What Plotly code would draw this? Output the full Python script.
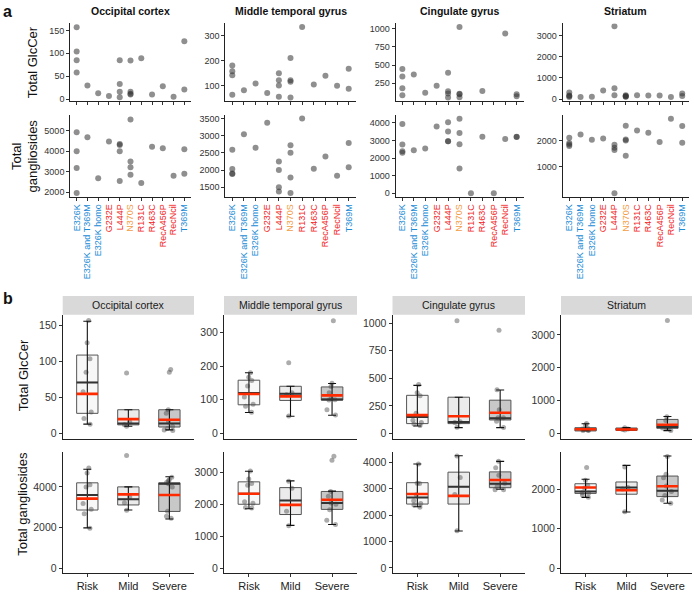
import plotly.graph_objects as go

W, H = 694, 592

# ---- data: panel a (per mutation) ----
mutations = ["E326K", "E326K and T369M", "E326K homo", "G232E", "L444P", "N370S",
             "R131C", "R463C", "RecA456P", "RecNcil", "T369M"]
mut_group = ["Risk", "Risk", "Risk", "Severe", "Severe", "Mild",
             "Severe", "Severe", "Severe", "Severe", "Risk"]
regions = ["Occipital cortex", "Middle temporal gyrus", "Cingulate gyrus", "Striatum"]

occ_glc = [[157, 104, 85, 58], [30], [13], [7], [85, 33, 16, 4], [84, 16, 12, 10],
           [89], [10], [28], [5], [126, 21]]
mtg_glc = [[180, 157, 141, 63], [81], [108], [70], [149, 121, 100, 55], [210, 121, 115, 52],
           [334], [104], [139], [99], [167, 87]]
cing_glc = [[445, 343, 184, 87], [370], [120], [215], [396, 142, 111, 55], [1022, 106, 100, 58],
            [], [144], [], [934], [100, 72]]
str_glc = [[310, 170, 140, 93], [93], [108], [400], [3433, 510, 185], [175, 140, 125, 110],
           [185], [170], [170], [93], [263, 140]]

occ_gang = [[4930, 4000, 3180, 1960], [4680], [2680], [4480], [4350, 4300, 4000, 2550],
            [5550, 3500, 3220, 2850], [2450], [4220], [4150], [2800], [4100, 2900]]
mtg_gang = [[2590, 2030, 1900, 1880], [3040], [2650], [3375], [2250, 2000, 1500, 1370],
            [2720, 2500, 1780, 1330], [3500], [2040], [2395], [1830], [2790, 2080]]
cing_gang = [[3940, 2775, 2380, 2300], [2440], [2550], [3800], [4040, 3510, 2960, 2960],
             [4240, 3430, 2780, 1410], [0], [3210], [0], [3090], [3210, 3200]]
str_gang = [[2100, 1900, 1850, 1790], [2225], [2025], [2075], [1840, 1725, 1640, 0],
            [2560, 2040, 2000, 1425], [2375], [2290], [1940], [2825], [2550, 1910]]

glccer = [occ_glc, mtg_glc, cing_glc, str_glc]
gangl = [occ_gang, mtg_gang, cing_gang, str_gang]

# ---- data: panel b box statistics (Risk, Mild, Severe), facet order:
# occ/mtg/cing/str GlcCer, then occ/mtg/cing/str gangliosides
groups = ["Risk", "Mild", "Severe"]
box_q1 = [[28, 12, 9], [85, 98, 99], [90, 90, 123], [80, 100, 160],
          [2860, 3110, 2790], [2000, 1680, 1840], [2420, 2420, 3040], [1890, 1870, 1810]]
box_med = [[71, 14, 14], [120, 118, 101], [150, 105, 138], [125, 125, 200],
           [3600, 3390, 4150], [2330, 2120, 2040], [2670, 3080, 3190], [1940, 2040, 1960]]
box_q3 = [[109, 33, 33], [158, 140, 138], [346, 329, 302], [180, 170, 430],
          [4200, 4000, 4200], [2700, 2520, 2400], [3230, 3630, 3640], [2135, 2180, 2330]]
box_lo = [[13, 10, 5], [62, 51, 54], [69, 54, 54], [90, 100, 90],
          [1980, 2860, 2420], [1860, 1340, 1370], [2320, 1400, 2980], [1790, 1420, 1640]]
box_hi = [[156, 33, 33], [180, 140, 148], [436, 329, 394], [300, 180, 520],
          [4870, 4000, 4500], [3030, 2730, 2410], [3940, 4250, 4040], [2250, 2600, 2840]]
box_red = [[55, 20, 19], [117, 110, 113], [167, 156, 188], [130, 125, 270],
           [3420, 3630, 3600], [2330, 1980, 2140], [2800, 2730, 3330], [2040, 1970, 2070]]

# ---- styling / layout helpers ----
FONT = "Liberation Sans, Arial, sans-serif"
group_color = {"Risk": "#1b8bd6", "Mild": "#f39c45", "Severe": "#f21c1c"}
group_fill = ["#f7f7f7", "#ebebeb", "#c8c8c8"]

A_X = [(70.2, 190.8), (225.3, 355.7), (395.5, 523.5), (562.5, 689)]
A_Y = [(22.7, 101), (115, 197.7)]
B_X = [(62.7, 194), (224, 357), (392.5, 525), (561, 692)]
B_Y = [(317, 442), (456, 578)]

a_yr = [[[-4, 165], [38, 348], [8, 1070], [-90, 3560]],
        [[1780, 5780], [1222, 3608], [-200, 4460], [-130, 2970]]]
a_yt = [[[0, 50, 100, 150], [100, 200, 300], [250, 500, 750, 1000], [0, 1000, 2000, 3000]],
        [[2000, 3000, 4000, 5000], [1500, 2000, 2500, 3000, 3500], [0, 1000, 2000, 3000, 4000], [1000, 2000]]]
b_yr = [[[-7, 165], [-15, 352], [-45, 1075], [-150, 3610]],
        [[-250, 5700], [-150, 3620], [-200, 4380], [-130, 2930]]]
b_yt = [[[0, 50, 100, 150], [0, 100, 200, 300], [0, 250, 500, 750, 1000], [0, 1000, 2000, 3000]],
        [[0, 2000, 4000], [0, 1000, 2000, 3000], [0, 1000, 2000, 3000, 4000], [0, 1000, 2000]]]


def xd(a, b):
    return [a / W, b / W]


def yd(top, bottom):
    return [1 - bottom / H, 1 - top / H]


def ax_names(n):
    s = "" if n == 1 else str(n)
    return "x" + s, "y" + s, "xaxis" + s, "yaxis" + s


fig = go.Figure()
axes = {}
base = dict(showgrid=False, zeroline=False, showline=True, linecolor="#222", linewidth=1,
            ticks="outside", ticklen=3, tickwidth=0.8, tickcolor="#333")

# ---- panel a ----
cat_text = ['<span style="color:%s">%s</span>' % (group_color[g], m)
            for m, g in zip(mutations, mut_group)]
for r, block in enumerate([glccer, gangl]):
    for c in range(4):
        n = r * 4 + c + 1
        xr, yr, xa, ya = ax_names(n)
        xs, ys = [], []
        for m, vals in zip(mutations, block[c]):
            for v in vals:
                xs.append(m)
                ys.append(v)
        fig.add_trace(go.Scatter(x=xs, y=ys, mode="markers", xaxis=xr, yaxis=yr,
                                 marker=dict(size=6, color="rgba(51,51,51,0.55)"),
                                 showlegend=False))
        axes[xa] = dict(base, domain=xd(*A_X[c]), anchor=yr, type="category",
                        categoryorder="array", categoryarray=mutations, range=[-0.6, 10.6],
                        tickmode="array", tickvals=mutations, ticktext=cat_text,
                        tickangle=-90, showticklabels=(r == 1),
                        tickfont=dict(size=9, family=FONT))
        axes[ya] = dict(base, domain=yd(*A_Y[r]), anchor=xr, range=a_yr[r][c],
                        tickmode="array", tickvals=a_yt[r][c],
                        tickfont=dict(size=9, family=FONT, color="#333"))

# ---- panel b ----
for r, block in enumerate([glccer, gangl]):
    for c in range(4):
        f = r * 4 + c
        n = 8 + f + 1
        xr, yr, xa, ya = ax_names(n)
        for g in range(3):
            fig.add_trace(go.Box(x=[g], q1=[box_q1[f][g]], median=[box_med[f][g]],
                                 q3=[box_q3[f][g]], lowerfence=[box_q1[f][g]],
                                 upperfence=[box_q3[f][g]], width=0.52, whiskerwidth=0,
                                 fillcolor=group_fill[g], line=dict(color="#555", width=1),
                                 boxpoints=False, xaxis=xr, yaxis=yr, showlegend=False))
        fig.add_trace(go.Scatter(
            x=[0, 1, 2], y=box_lo[f], mode="markers", xaxis=xr, yaxis=yr,
            marker=dict(size=2, color="rgba(0,0,0,0)"), showlegend=False,
            error_y=dict(type="data", symmetric=False,
                         array=[h - l for h, l in zip(box_hi[f], box_lo[f])],
                         arrayminus=[0, 0, 0], color="#111", thickness=1.1, width=4)))
        for vals, col, wd in [(box_med[f], "#333", 2), (box_red[f], "#ff2a00", 2.6)]:
            sx, sy = [], []
            for g, v in enumerate(vals):
                sx += [g - 0.26, g + 0.26, None]
                sy += [v, v, None]
            fig.add_trace(go.Scatter(x=sx, y=sy, mode="lines", xaxis=xr, yaxis=yr,
                                     line=dict(color=col, width=wd), showlegend=False))
        px, py = [], []
        for g, vals in zip(mut_group, block[c]):
            for v in vals:
                if v > 0:
                    px.append(groups.index(g))
                    py.append(v)
        fig.add_trace(go.Box(x=px, y=py, boxpoints="all", jitter=0.5, pointpos=0, width=0.52,
                             whiskerwidth=0, fillcolor="rgba(0,0,0,0)",
                             line=dict(color="rgba(0,0,0,0)"),
                             marker=dict(size=5, color="rgba(70,70,70,0.45)"),
                             xaxis=xr, yaxis=yr, showlegend=False))
        axes[xa] = dict(base, domain=xd(*B_X[c]), anchor=yr, range=[-0.6, 2.6],
                        tickmode="array", tickvals=[0, 1, 2], ticktext=groups,
                        showticklabels=(r == 1), ticks="outside" if r == 1 else "",
                        tickfont=dict(size=11, family=FONT, color="#222"))
        axes[ya] = dict(base, domain=yd(*B_Y[r]), anchor=xr, range=b_yr[r][c],
                        tickmode="array", tickvals=b_yt[r][c],
                        tickfont=dict(size=10.5, family=FONT, color="#333"))

# ---- text and strips ----
ann = []
shapes = []


def label(x, y, text, size, bold=False, angle=0, xanchor="center", yanchor="middle", color="#111"):
    if bold:
        text = "<b>%s</b>" % text
    ann.append(dict(x=x / W, y=1 - y / H, xref="paper", yref="paper", text=text,
                    showarrow=False, textangle=angle, xanchor=xanchor, yanchor=yanchor,
                    font=dict(size=size, family=FONT, color=color)))


label(1, 0, "a", 16, bold=True, xanchor="left", yanchor="top")
label(1, 290, "b", 16, bold=True, xanchor="left", yanchor="top")
for c, name in enumerate(regions):
    label((A_X[c][0] + A_X[c][1]) / 2, 10, name, 10.5, bold=True)
    x0, x1 = B_X[c]
    shapes.append(dict(type="rect", xref="paper", yref="paper", x0=x0 / W, x1=x1 / W,
                       y0=1 - 317 / H, y1=1 - 298 / H, fillcolor="#d9d9d9", line=dict(width=0),
                       layer="below"))
    label((x0 + x1) / 2, 307.5, name, 10.5, color="#1a1a1a")

label(32, 62, "Total GlcCer", 13, angle=-90)
label(25, 157, "Total<br>gangliosides", 13, angle=-90)
label(23, 378, "Total GlcCer", 13, angle=-90)
label(23, 508, "Total gangliosides", 13, angle=-90)

fig.update_layout(width=W, height=H, margin=dict(l=0, r=0, t=0, b=0),
                  paper_bgcolor="white", plot_bgcolor="white", showlegend=False,
                  font=dict(family=FONT), annotations=ann, shapes=shapes, **axes)
# page body has a default 8px margin; drop it so the figure sits at the window origin
fig.write_html("out.html", config={"displayModeBar": False},
               post_script="document.body.style.margin='0';")
